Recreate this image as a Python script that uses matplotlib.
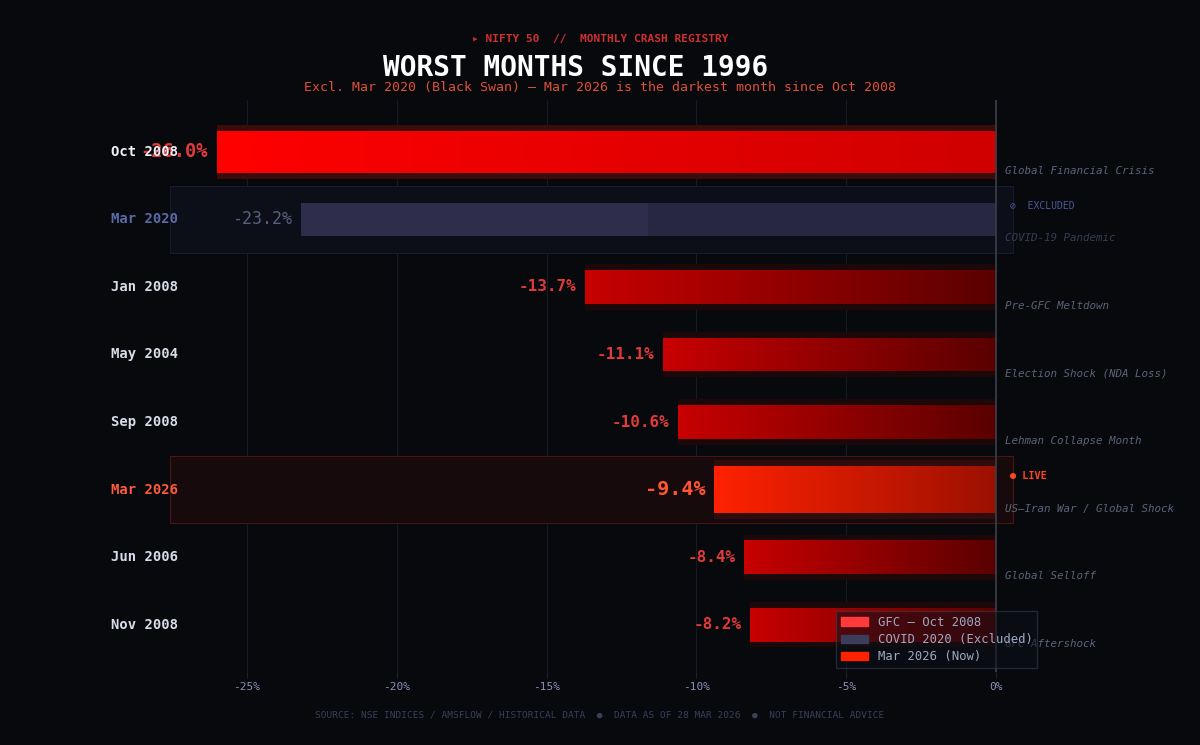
import numpy as np
import matplotlib
matplotlib.use("Agg")
import matplotlib.pyplot as plt
from matplotlib.colors import LinearSegmentedColormap
from matplotlib.patches import Patch

months = ["Oct 2008", "Mar 2020", "Jan 2008", "May 2004",
          "Sep 2008", "Mar 2026", "Jun 2006", "Nov 2008"]
returns = [-26.0, -23.2, -13.7, -11.1, -10.6, -9.4, -8.4, -8.2]
events = ["Global Financial Crisis", "COVID-19 Pandemic", "Pre-GFC Meltdown",
          "Election Shock (NDA Loss)", "Lehman Collapse Month",
          "US\u2014Iran War / Global Shock", "Global Selloff", "GFC Aftershock"]
xticks = [-25, -20, -15, -10, -5, 0]

BG = "#07090d"
MONO = ["DejaVu Sans Mono", "DejaVu Sans"]
plt.rcParams["font.family"] = MONO

fig = plt.figure(figsize=(12, 7.45), dpi=100, facecolor=BG)
ax = fig.add_axes([0.1308, 0.098, 0.7367, 0.768])
ax.set_facecolor(BG)
ax.set_xlim(-28, 1.5)
ax.set_ylim(7.7, -0.77)

y = np.arange(len(months))
grad = np.linspace(0, 1, 256).reshape(1, -1)

for i, (m, v) in enumerate(zip(months, returns)):
    if m == "Mar 2020":
        # excluded row: muted highlight box and two-tone bar
        ax.barh(y[i], 28.1, left=-27.55, height=1.0, color="#0c0e18",
                edgecolor="#161a2a", linewidth=0.8, zorder=1, clip_on=False)
        ax.barh(y[i], -v / 2, left=v, height=0.5, color="#2e2d4b", zorder=3)
        ax.barh(y[i], -v / 2, left=v / 2, height=0.5, color="#272741", zorder=3)
        ax.text(v - 0.3, y[i], f"{v:.1f}%", ha="right", va="center",
                fontsize=12, color="#56617f", zorder=5)
        ax.text(0.45, y[i] - 0.2, "\u2298  EXCLUDED", fontsize=7,
                color="#4a5a9a", va="center", clip_on=False)
        ax.text(0.3, y[i] + 0.28, events[i], fontsize=7.8, style="italic",
                color="#363d52", va="center", clip_on=False)
        ax.text(-27.3, y[i], m, ha="right", va="center", fontsize=10,
                fontweight="bold", color="#5a6aa8", clip_on=False)
        continue

    if m == "Oct 2008":
        h, gh = 0.62, 0.8
        c0, c1, glow = "#ff0000", "#cf0000", "#3c0c0c"
        lab_kw = dict(fontsize=13.5, color="#e03a3a")
        name_col = "#eef0f6"
    elif m == "Mar 2026":
        h, gh = 0.7, 0.88
        c0, c1, glow = "#ff2200", "#9c1000", "#300c0c"
        lab_kw = dict(fontsize=14.5, color="#ff5533")
        name_col = "#ff5a3c"
        ax.barh(y[i], 28.1, left=-27.55, height=1.0, color="#170a0c",
                edgecolor="#4a1414", linewidth=0.8, zorder=1, clip_on=False)
        ax.text(0.45, y[i] - 0.2, "\u25cf LIVE", fontsize=7.3, fontweight="bold",
                color="#ff4422", va="center", clip_on=False)
    else:
        h, gh = 0.5, 0.67
        c0, c1, glow = "#c80000", "#5a0000", "#1c0808"
        lab_kw = dict(fontsize=11.5, color="#e03a3a")
        name_col = "#d8dce8"

    ax.barh(y[i], -v, left=v, height=gh, color=glow, zorder=2)
    bar = ax.barh(y[i], -v, left=v, height=h, color=c0, zorder=3)[0]
    cmap = LinearSegmentedColormap.from_list(m, [c0, c1])
    x0, x1 = bar.get_x(), bar.get_x() + bar.get_width()
    im = ax.imshow(grad, extent=[x0, x1, y[i] + h / 2, y[i] - h / 2],
                   aspect="auto", cmap=cmap, zorder=4)
    im.set_clip_path(bar)
    ax.text(v - 0.3, y[i], f"{v:.1f}%", ha="right", va="center",
            fontweight="bold", zorder=5, **lab_kw)
    ax.text(0.3, y[i] + 0.28, events[i], fontsize=7.8, style="italic",
            color="#5a6478", va="center", clip_on=False)
    ax.text(-27.3, y[i], m, ha="right", va="center", fontsize=10,
            fontweight="bold", color=name_col, clip_on=False, zorder=6)

ax.set_xlim(-28, 1.5)
ax.set_ylim(7.7, -0.77)

ax.axvline(0, color="#3a3f4a", linewidth=1.2, zorder=6)
ax.set_xticks(xticks)
ax.set_xticklabels([f"{t}%" for t in xticks])
ax.set_yticks([])
ax.tick_params(axis="x", colors="#1e2230", labelcolor="#8a90b8",
               labelsize=8, length=4)
ax.grid(axis="x", color="#161a24", linewidth=0.8, zorder=0)
ax.set_axisbelow(True)
for s in ax.spines.values():
    s.set_visible(False)

handles = [Patch(color="#ff3a3a", label="GFC \u2014 Oct 2008"),
           Patch(color="#3a3e5a", label="COVID 2020 (Excluded)"),
           Patch(color="#ff2200", label="Mar 2026 (Now)")]
leg = ax.legend(handles=handles, loc="lower right", fontsize=8.8,
                facecolor="#0d1018", edgecolor="#3a4050", framealpha=0.55,
                labelcolor="#a0a8c0", borderaxespad=0.3, fancybox=False,
                handlelength=2.2, labelspacing=0.35)
leg.set_zorder(10)

fig.text(0.5, 0.947, "\u25b8 NIFTY 50  //  MONTHLY CRASH REGISTRY",
         ha="center", va="center", fontsize=8, fontweight="bold", color="#d03030")
fig.text(0.319, 0.909, "WORST MONTHS SINCE 1996", ha="left", va="center",
         fontsize=20, fontweight="bold", color="#ffffff")
fig.text(0.5, 0.883, "Excl. Mar 2020 (Black Swan) \u2014 Mar 2026 is the darkest month since Oct 2008",
         ha="center", va="center", fontsize=9.5, color="#e0503a")
fig.text(0.5, 0.04, "SOURCE: NSE INDICES / AMSFLOW / HISTORICAL DATA  \u25cf  DATA AS OF 28 MAR 2026  \u25cf  NOT FINANCIAL ADVICE",
         ha="center", va="center", fontsize=6.8, color="#38405a")

fig.savefig("out.png", dpi=100, facecolor=BG)
